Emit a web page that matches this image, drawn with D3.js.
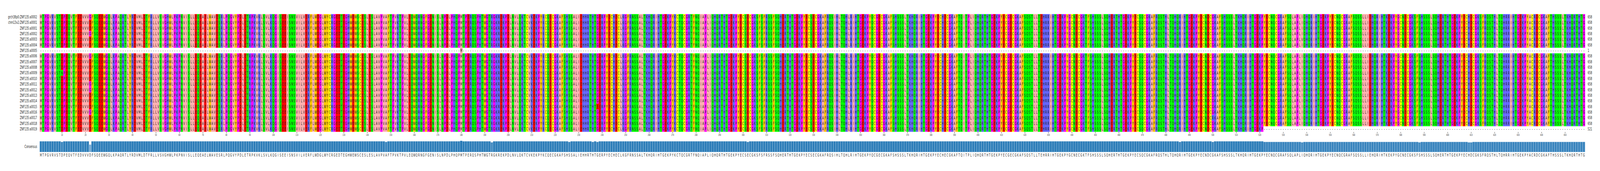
<!DOCTYPE html>
<html>
<head>
<meta charset="utf-8">
<script src="https://cdn.jsdelivr.net/npm/d3@7"></script>
<style>
  html, body { margin: 0; padding: 0; background: #fff; overflow: hidden; width: 100%; height: 100%; }
  #chart { width: 100vw; height: 100vh; }
  svg { display: block; width: 100vw; height: 100vh; }
  text { font-family: "DejaVu Sans", sans-serif; }
</style>
</head>
<body>
<div id="chart"></div>
<script>
const width = 6867;
const height = 438;

// sequence names, top to bottom
const rowNames = [
  "grch38p0:ZNF135:a0002", "chm13v2:ZNF135:a0001",
  "ZNF135:a0001", "ZNF135:a0002", "ZNF135:a0003", "ZNF135:a0004", "ZNF135:a0005",
  "ZNF135:a0006", "ZNF135:a0007", "ZNF135:a0008", "ZNF135:a0009", "ZNF135:a0010",
  "ZNF135:a0011", "ZNF135:a0012", "ZNF135:a0013", "ZNF135:a0014", "ZNF135:a0015",
  "ZNF135:a0016", "ZNF135:a0017", "ZNF135:a0018", "ZNF135:a0019"
];

// consensus, 658 columns, read in blocks
const consensusBlocks = [
  "MTPGVRVSTDPEQVTFEDVVVDFSQEEWGQLKPAQRTLYRDVMLDTFRLLVSVGHWLPKPNVISLLEQEAELW",
  "AVESRLPQGVYPDLETRPKVKLSVLKQGISEEISNSVILVERFLWDGLWYCRGEDTEGHWEWSCESLESLAVP",
  "VAFTPVKTPVLEQWQRNGFGENISLNPDLPHQPMTPERQSPHTWGTRGKREKPDLNVLQKTCVKEKPYKCQEC",
  "GKAFSHSSALIEHHRTHTGERPYECHECLKGFRNSSALTKHQRIHTGEKPYKCTQCGRTFNQIAPLIQHQRTH",
  "TGEKPYECSECGKSFSFRSSFSQHERTHTGEKPYECSECGKAFRQSIHLTQHLRIHTGEKPYQCGECGKAFSH",
  "SSSLTKHQRIHTGEKPYECHECGKAFTQITPLIQHQRTHTGEKPYECGECGKAFSQSTLLTEHRRIHTGEKPY",
  "GCNECGKTFSHSSSLSQHERTHTGEKPYECSQCGKAFRQSTHLTQHQRIHTGEKPYECNDCGKAFSHSSSLTK",
  "HQRIHTGEKPYECNQCGRAFSQLAPLIQHQRIHTGEKPYECNQCGRAFSQSSLLIEHQRIHTKEKPYGCNECG",
  "KSFSHSSSLSQHERTHTGEKPYECHDCGKSFRQSTHLTQHRRIHTGEKPYACRDCGKAFTHSSSLTKHQRTHTG"
];

// [row index, column, residue] differing from consensus
const variants = [
  [0, 22, "G"], [3, 22, "G"], [7, 22, "G"], [12, 22, "G"], [13, 22, "G"], [17, 22, "G"],
  [10, 10, "N"], [14, 148, "V"], [9, 193, "K"], [15, 193, "K"],
  [11, 226, "N"], [8, 236, "R"], [16, 238, "E"], [5, 302, "D"],
  [13, 486, "K"], [18, 500, "R"], [4, 538, "V"],
  [11, 588, "N"], [15, 609, "R"], [15, 610, "E"]
];

// residues present per row: [first, last] columns
const rowSpans = [
  [1, 658], [1, 658], [1, 658], [1, 658], [1, 658], [1, 658], [180, 180],
  [1, 658], [1, 658], [1, 658], [1, 658], [1, 658], [1, 658], [1, 658],
  [1, 658], [1, 658], [1, 658], [1, 658], [1, 658], [1, 658], [1, 521]
];
const rowLengths = [658, 658, 658, 658, 658, 658, 1, 658, 658, 658, 658, 658,
  658, 658, 658, 658, 658, 658, 658, 658, 521];

const zappo = {
  I: "#ffafaf", L: "#ffafaf", V: "#ffafaf", A: "#ffafaf", M: "#ffafaf",
  F: "#ffc800", W: "#ffc800", Y: "#ffc800",
  K: "#6464ff", R: "#6464ff", H: "#6464ff",
  D: "#ff0000", E: "#ff0000",
  S: "#00ff00", T: "#00ff00", N: "#00ff00", Q: "#00ff00",
  P: "#ff00ff", G: "#ff00ff",
  C: "#ffff00"
};

const consensus = consensusBlocks.join("").split("");
const nCol = consensus.length;
const cols = d3.range(1, nCol + 1);

// build the alignment matrix
const matrix = rowNames.map((name, r) => cols.map(c => {
  const [a, b] = rowSpans[r];
  return (c >= a && c <= b) ? consensus[c - 1] : "-";
}));
variants.forEach(([r, c, aa]) => { matrix[r][c - 1] = aa; });

// conservation per column
const conservation = cols.map(c => {
  const counts = d3.rollup(matrix.map(row => row[c - 1]).filter(a => a !== "-"), v => v.length, a => a);
  const top = d3.max(counts.values()) || 0;
  return top / rowNames.length;
});

const x = d3.scaleBand().domain(cols).range([170.4, 6803]);
const y = d3.scaleBand().domain(d3.range(rowNames.length)).range([36, 337.4]);

const svg = d3.select("#chart").append("svg")
  .attr("viewBox", `0 0 ${width} ${height}`)
  .attr("preserveAspectRatio", "none");

// cells
const rows = svg.selectAll("g.row")
  .data(matrix)
  .join("g")
  .attr("class", "row")
  .attr("transform", (d, i) => `translate(0,${y(i)})`);

rows.selectAll("rect")
  .data(d => d.map((aa, i) => ({ aa, c: i + 1 })).filter(d => d.aa !== "-"))
  .join("rect")
  .attr("x", d => x(d.c))
  .attr("y", 0)
  .attr("width", x.bandwidth() + 0.3)
  .attr("height", y.bandwidth() + 0.3)
  .attr("fill", d => zappo[d.aa] || "#fff");

rows.selectAll("text")
  .data(d => d.map((aa, i) => ({ aa, c: i + 1 })))
  .join("text")
  .attr("x", d => x(d.c) + x.bandwidth() / 2)
  .attr("y", y.bandwidth() / 2 + 4)
  .attr("text-anchor", "middle")
  .style("font-size", "10.5px")
  .attr("fill", "#222")
  .text(d => d.aa);

// row labels and lengths
svg.selectAll("text.name")
  .data(rowNames)
  .join("text")
  .attr("class", "name")
  .attr("x", 159)
  .attr("y", (d, i) => y(i) + y.bandwidth() / 2 + 3.8)
  .attr("text-anchor", "end")
  .style("font-size", "10px")
  .attr("fill", "#222")
  .text(d => d);

svg.selectAll("text.len")
  .data(rowLengths)
  .join("text")
  .attr("class", "len")
  .attr("x", 6814)
  .attr("y", (d, i) => y(i) + y.bandwidth() / 2 + 3.8)
  .style("font-size", "10px")
  .attr("fill", "#222")
  .text(d => d);

// position axis
const tickCols = cols.filter(c => c % 10 === 0);
const axis = svg.append("g")
  .attr("transform", "translate(0,338)")
  .call(d3.axisBottom(x).tickValues(tickCols).tickSize(3.5).tickPadding(2));
axis.select(".domain").remove();
axis.selectAll("line").attr("stroke", "#333");
axis.selectAll("text").style("font-size", "7px").attr("fill", "#333")
  .style("font-family", "DejaVu Sans Condensed, DejaVu Sans, sans-serif");

// consensus bars
const barBase = 389.5;
const barH = d3.scaleLinear().domain([0, 1]).range([0, 29]);
const barColor = d3.scaleLinear().domain([0.6, 1]).range(["#86b6dc", "#2276b4"]);

svg.selectAll("rect.cons")
  .data(cols)
  .join("rect")
  .attr("class", "cons")
  .attr("x", c => x(c))
  .attr("y", c => barBase - barH(conservation[c - 1]))
  .attr("width", x.bandwidth())
  .attr("height", c => barH(conservation[c - 1]))
  .attr("fill", c => barColor(conservation[c - 1]))
  .attr("stroke", "#dce9f4")
  .attr("stroke-width", 0.6);

svg.selectAll("text.cons")
  .data(cols)
  .join("text")
  .attr("class", "cons")
  .attr("x", c => x(c) + x.bandwidth() / 2)
  .attr("y", 401)
  .attr("text-anchor", "middle")
  .style("font-size", "10px")
  .attr("fill", "#333")
  .text(c => consensus[c - 1]);

svg.append("text")
  .attr("x", 159)
  .attr("y", 379)
  .attr("text-anchor", "end")
  .style("font-size", "10px")
  .attr("fill", "#222")
  .text("Consensus");
</script>
</body>
</html>
